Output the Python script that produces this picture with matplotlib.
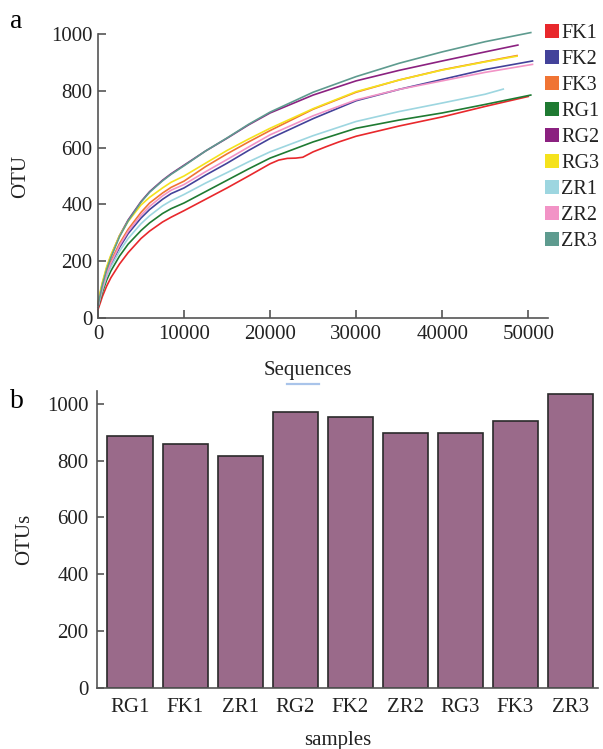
import matplotlib
matplotlib.use("Agg")
import matplotlib.pyplot as plt
from matplotlib.patches import Patch
from matplotlib.lines import Line2D

plt.rcParams['font.family'] = ['Liberation Serif', 'DejaVu Serif']

# ---- rarefaction curves (sequences sampled vs. observed OTUs) ----
seq_grid = [0, 250, 500, 1000, 1500, 2500, 3500, 5000, 6000, 7500, 8500,
            10000, 12500, 15000, 17500, 20000, 25000, 30000, 35000, 40000,
            45000]

fk1_x = [0, 250, 500, 1000, 1500, 2500, 3500, 5000, 6000, 7500, 8500,
         10000, 12500, 15000, 17500, 20000, 21000, 22000, 23000, 23800,
         25000, 26500, 28000, 30000, 35000, 40000, 45000, 50000]
fk1_y = [30, 52, 75, 112, 142, 190, 230, 280, 306, 338, 355,
         378, 418, 458, 500, 543, 556, 562, 563, 566,
         585, 603, 620, 640, 676, 708, 745, 780]

fk2_x = seq_grid + [50500]
fk2_y = [40, 70, 100, 150, 188, 248, 297, 352, 382, 418, 438,
         458, 503, 545, 590, 632, 702, 765, 805, 840, 875, 905]

fk3_x = seq_grid + [48700]
fk3_y = [45, 78, 110, 160, 200, 262, 312, 372, 405, 440, 460,
         482, 533, 578, 620, 660, 735, 795, 838, 874, 903, 924]

rg1_x = seq_grid + [50300]
rg1_y = [38, 64, 90, 133, 166, 218, 260, 308, 335, 368, 385,
         405, 445, 485, 525, 563, 620, 668, 697, 722, 752, 785]

rg2_x = seq_grid + [48800]
rg2_y = [50, 85, 120, 175, 218, 290, 345, 410, 445, 485, 508,
         538, 588, 633, 680, 722, 785, 835, 872, 905, 937, 961]

rg3_x = seq_grid + [48700]
rg3_y = [55, 92, 125, 180, 222, 290, 340, 398, 425, 458, 478,
         500, 545, 590, 630, 668, 737, 797, 838, 873, 902, 922]

zr1_x = seq_grid + [47100]
zr1_y = [40, 70, 98, 145, 180, 235, 280, 332, 360, 395, 413,
         435, 475, 512, 550, 585, 642, 692, 727, 757, 788, 806]

zr2_x = seq_grid + [50500]
zr2_y = [42, 74, 105, 155, 193, 255, 305, 362, 393, 430, 450,
         470, 515, 558, 602, 645, 712, 768, 805, 835, 865, 893]

zr3_x = seq_grid + [50300]
zr3_y = [45, 80, 115, 170, 213, 286, 342, 408, 443, 483, 506,
         536, 588, 634, 682, 725, 795, 850, 897, 937, 973, 1005]

curve_names = ['FK1', 'FK2', 'FK3', 'RG1', 'RG2', 'RG3', 'ZR1', 'ZR2', 'ZR3']
curve_colors = ['#e8282c', '#43429a', '#f07434', '#1f7a32', '#8b2180',
                '#f5e21c', '#9dd6e0', '#f293c6', '#5e9b8f']

# ---- observed OTUs per sample ----
samples = ['RG1', 'FK1', 'ZR1', 'RG2', 'FK2', 'ZR2', 'RG3', 'FK3', 'ZR3']
otus = [887, 857, 818, 971, 952, 897, 897, 938, 1035]

W, H = 603, 749
fig = plt.figure(figsize=(W / 100, H / 100), dpi=100)

axis_color = '#555555'
text_color = '#222222'
tick_fs = 15
label_fs = 15

# ---------------- panel a ----------------
ax1 = fig.add_axes([98 / W, 1 - 318 / H, 450 / W, 284 / H])
series = [(fk1_x, fk1_y), (fk2_x, fk2_y), (fk3_x, fk3_y), (rg1_x, rg1_y),
          (rg2_x, rg2_y), (rg3_x, rg3_y), (zr1_x, zr1_y), (zr2_x, zr2_y),
          (zr3_x, zr3_y)]
for (xs, ys), c in zip(series, curve_colors):
    ax1.plot(xs, ys, color=c, lw=1.2, clip_on=False,
             solid_joinstyle='round')

ax1.set_xlim(0, 52300)
ax1.set_ylim(0, 1000)
ax1.set_xticks([0, 10000, 20000, 30000, 40000, 50000])
ax1.set_yticks([0, 200, 400, 600, 800, 1000])
for s in ['top', 'right']:
    ax1.spines[s].set_visible(False)
for s in ['left', 'bottom']:
    ax1.spines[s].set_color(axis_color)
    ax1.spines[s].set_linewidth(1.2)
ax1.tick_params(axis='both', direction='in', length=6, width=1.2,
                color=axis_color, labelsize=tick_fs, labelcolor=text_color)
ax1.tick_params(axis='x', pad=5)
ax1.tick_params(axis='y', pad=4)
ax1.set_ylabel('OTU', fontsize=label_fs, color=text_color)
ax1.yaxis.set_label_coords(-0.15, 0.5)
ax1.set_xlabel('Sequences', fontsize=label_fs, color=text_color)
ax1.xaxis.set_label_coords(0.467, -0.15)

handles = [Patch(facecolor=c, edgecolor='none') for c in curve_colors]
fig.legend(handles, curve_names, loc='upper left',
           bbox_to_anchor=(545 / W, 1 - 24 / H), frameon=False,
           fontsize=14.5, handlelength=0.68, handleheight=0.68,
           handletextpad=0.12, labelspacing=0.35, borderaxespad=0,
           borderpad=0, labelcolor=text_color)

fig.add_artist(Line2D([287 / W, 319 / W], [1 - 384 / H, 1 - 384 / H],
                      color='#a9c4ea', lw=1.6))

fig.text(10 / W, 1 - 22 / H, 'a', fontsize=20, va='center', ha='left')

# ---------------- panel b ----------------
ax2 = fig.add_axes([97 / W, 1 - 688 / H, 501 / W, 297 / H])
pos = list(range(len(samples)))
ax2.bar(pos, otus, width=0.82, color='#9a6a8a', edgecolor='#2a2a2a',
        linewidth=1.2)
ax2.set_xlim(-0.6, 8.5)
ax2.set_ylim(0, 1045)
ax2.set_xticks(pos)
ax2.set_xticklabels(samples)
ax2.set_yticks([0, 200, 400, 600, 800, 1000])
for s in ['top', 'right']:
    ax2.spines[s].set_visible(False)
for s in ['left', 'bottom']:
    ax2.spines[s].set_color(axis_color)
    ax2.spines[s].set_linewidth(1.2)
ax2.tick_params(axis='y', direction='in', length=5, width=1.2,
                color=axis_color, labelsize=tick_fs, pad=6,
                labelcolor=text_color)
ax2.tick_params(axis='x', length=0, labelsize=tick_fs, pad=7,
                labelcolor=text_color)
ax2.set_ylabel('OTUs', fontsize=label_fs, color=text_color)
ax2.yaxis.set_label_coords(-0.125, 0.5)
ax2.set_xlabel('samples', fontsize=label_fs, color=text_color)
ax2.xaxis.set_label_coords(0.48, -0.145)

fig.text(10 / W, 1 - 402 / H, 'b', fontsize=20, va='center', ha='left')

fig.savefig('out.png', dpi=100)
